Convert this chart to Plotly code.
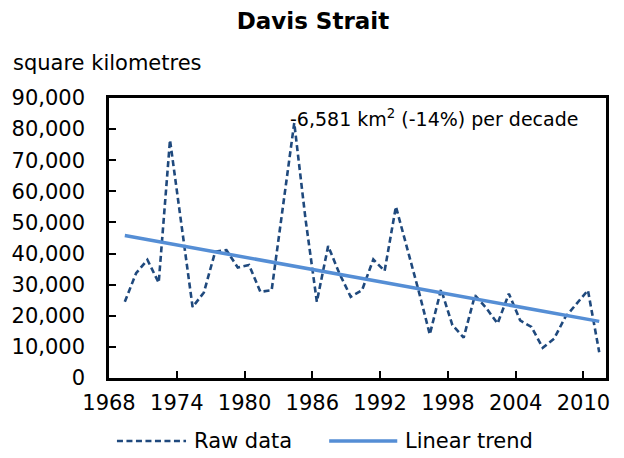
import plotly.graph_objects as go

# Davis Strait sea-ice area
YEARS = list(range(1969, 2012))
RAW_KM2 = [
    24500, 33700, 38000, 30600, 76500, 49500, 22800, 27500, 40600, 41100,
    35500, 36300, 27700, 28200, 55000, 82000, 51000, 24500, 42400, 33600,
    26100, 28200, 38100, 34400, 55100, 41800, 28200, 14000, 28500, 17000,
    13000, 26600, 22500, 17500, 27100, 18500, 16400, 9700, 12600, 19600,
    23800, 28200, 8300,
]
TREND_YEARS = [1969, 2011]
TREND_KM2 = [45800, 18200]
TICK_YEARS = [1968, 1974, 1980, 1986, 1992, 1998, 2004, 2010]
Y_TICKS = list(range(0, 90001, 10000))

RAW_COLOR = "#1F497D"
TREND_COLOR = "#558ED5"
FONT = "Verdana, DejaVu Sans, sans-serif"
TXT = 21
OFFSET = 0.4  # years sit slightly right of the tick marks in the original

fig = go.Figure()
fig.add_trace(
    go.Scatter(
        x=YEARS, y=RAW_KM2, mode="lines", name="Raw data",
        line=dict(color=RAW_COLOR, width=2.6, dash="6px,3.5px"),
        showlegend=False,
    )
)
fig.add_trace(
    go.Scatter(
        x=TREND_YEARS, y=TREND_KM2, mode="lines", name="Linear trend",
        line=dict(color=TREND_COLOR, width=3.5),
        showlegend=False,
    )
)

axis_common = dict(
    showline=True, linecolor="black", linewidth=2.5, mirror=True,
    ticks="inside", ticklen=7, tickwidth=2, tickcolor="black",
    showgrid=False, zeroline=False, automargin=False,
    tickfont=dict(family=FONT, size=TXT, color="black"),
)

fig.update_xaxes(
    range=[1968 - OFFSET, 2012 - OFFSET],
    tickvals=[t - OFFSET for t in TICK_YEARS],
    ticktext=[str(t) for t in TICK_YEARS],
    ticklabelstandoff=4,
    **axis_common,
)
fig.update_yaxes(
    range=[0, 90000],
    tickvals=Y_TICKS,
    tickformat=",d",
    ticklabelstandoff=17,
    **axis_common,
)

# custom legend so the line samples are as long as in the original
legend_y = -0.225
fig.add_shape(type="line", xref="paper", yref="paper", x0=0.016, x1=0.155,
              y0=legend_y, y1=legend_y,
              line=dict(color=RAW_COLOR, width=2.6, dash="6px,3.5px"))
fig.add_shape(type="line", xref="paper", yref="paper", x0=0.443, x1=0.58,
              y0=legend_y, y1=legend_y,
              line=dict(color=TREND_COLOR, width=3.5))
fig.add_annotation(text="Raw data", xref="paper", yref="paper", x=0.166, y=legend_y,
                   xanchor="left", yanchor="middle", showarrow=False,
                   font=dict(family=FONT, size=TXT, color="black"))
fig.add_annotation(text="Linear trend", xref="paper", yref="paper", x=0.592, y=legend_y,
                   xanchor="left", yanchor="middle", showarrow=False,
                   font=dict(family=FONT, size=TXT, color="black"))

fig.add_annotation(text="square kilometres", xref="paper", yref="paper",
                   x=-0.197, y=1.125, xanchor="left", yanchor="middle", showarrow=False,
                   font=dict(family=FONT, size=TXT, color="black"))
fig.add_annotation(text="-6,581 km<sup>2</sup> (-14%) per decade", xref="paper", yref="paper",
                   x=0.36, y=0.93, xanchor="left", yanchor="middle", showarrow=False,
                   font=dict(family=FONT, size=19, color="black"))

# page body adds an 8px margin, so the figure is 8px smaller than the window
fig.update_layout(
    width=616, height=450,
    margin=dict(l=101, r=18, t=90, b=80),
    paper_bgcolor="white", plot_bgcolor="white",
    title=dict(text="<b>Davis Strait</b>", x=0.495, xanchor="center", y=0.99, yanchor="top",
               font=dict(family=FONT, size=23, color="black")),
    showlegend=False,
)

fig.write_html("out.html")
